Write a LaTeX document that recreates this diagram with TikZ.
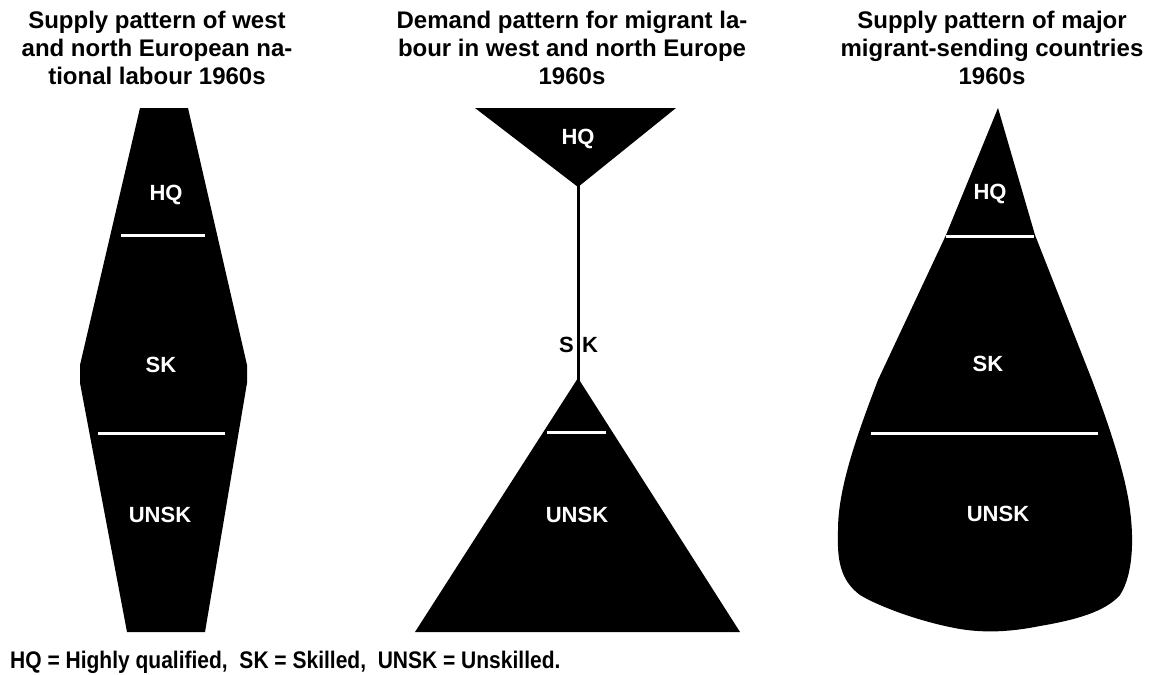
\documentclass[tikz,border=0pt]{standalone}
\usepackage{fontspec}
\setmainfont{Liberation Sans}
\begin{document}
\begin{tikzpicture}[x=1pt,y=-1pt,
  titletext/.style={font=\bfseries\fontsize{24}{28}\selectfont, align=center, inner sep=0pt, anchor=north},
  lab/.style={font=\bfseries\fontsize{22}{26}\selectfont, text=white, inner sep=0pt},
  blacklab/.style={font=\bfseries\fontsize{22}{26}\selectfont, text=black, inner sep=0pt},
  sepline/.style={draw=white, line width=3pt},
  stem/.style={draw=black, line width=3pt}]
\useasboundingbox (0,0) rectangle (1160,675);
\fill[white] (0,0) rectangle (1160,675);

% titles
\node[titletext] (t1) at (157,11) {Supply pattern of west\\and north European na-\\tional labour 1960s};
\node[titletext] (t2) at (572,11) {Demand pattern for migrant la-\\bour in west and north Europe\\1960s};
\node[titletext] (t3) at (992,11) {Supply pattern of major\\migrant-sending countries\\1960s};

% left shape
\fill (140,108) -- (188,108) -- (247,365) -- (247,383) -- (205,632) -- (127,632) -- (80,383) -- (80,365) -- cycle;
\draw[sepline] (121,235) -- (205,235);
\draw[sepline] (98,433) -- (225,433);
\node[lab] (l1) at (166,195) {HQ};
\node[lab] (l2) at (161,365) {SK};
\node[lab] (l3) at (160,515) {UNSK};

% middle shape
\fill (475,108) -- (676,108) -- (578,187) -- cycle;
\coordinate (mtop) at (578,184);
\coordinate (mbot) at (578,381);
\draw[stem] (mtop) -- (mbot);
\fill (578,378) -- (740,632) -- (415,632) -- cycle;
\draw[sepline] (547,432) -- (606,432);
\node[lab] (m1) at (578,139) {HQ};
\node[blacklab, anchor=east] (m2a) at (574,345) {S};
\node[blacklab, anchor=west] (m2b) at (582,345) {K};
\node[lab] (m3) at (577,515) {UNSK};

% right shape
\fill (998,108) -- (1035,235) -- (1092,380)
  .. controls (1105,415) and (1125,470) .. (1130,510)
  .. controls (1134,540) and (1133,575) .. (1120,595)
  .. controls (1105,612) and (1075,620) .. (1040,626)
  .. controls (1010,632) and (985,633) .. (960,629)
  .. controls (920,622) and (878,606) .. (860,595)
  .. controls (840,580) and (837,560) .. (838,530)
  .. controls (838,490) and (855,440) .. (878,380)
  -- (946,235) -- cycle;
\draw[sepline] (946,236) -- (1034,236);
\draw[sepline] (871,433) -- (1098,433);
\node[lab] (r1) at (990,194) {HQ};
\node[lab] (r2) at (988,364) {SK};
\node[lab] (r3) at (998,514) {UNSK};

% legend
\node[inner sep=0pt, anchor=base west, font=\bfseries\fontsize{24}{28}\selectfont] (leg) at (10,668)
  {\scalebox{0.875}[1]{HQ = Highly qualified,\ \ SK = Skilled,\ \ UNSK = Unskilled.}};
\end{tikzpicture}
\end{document}
